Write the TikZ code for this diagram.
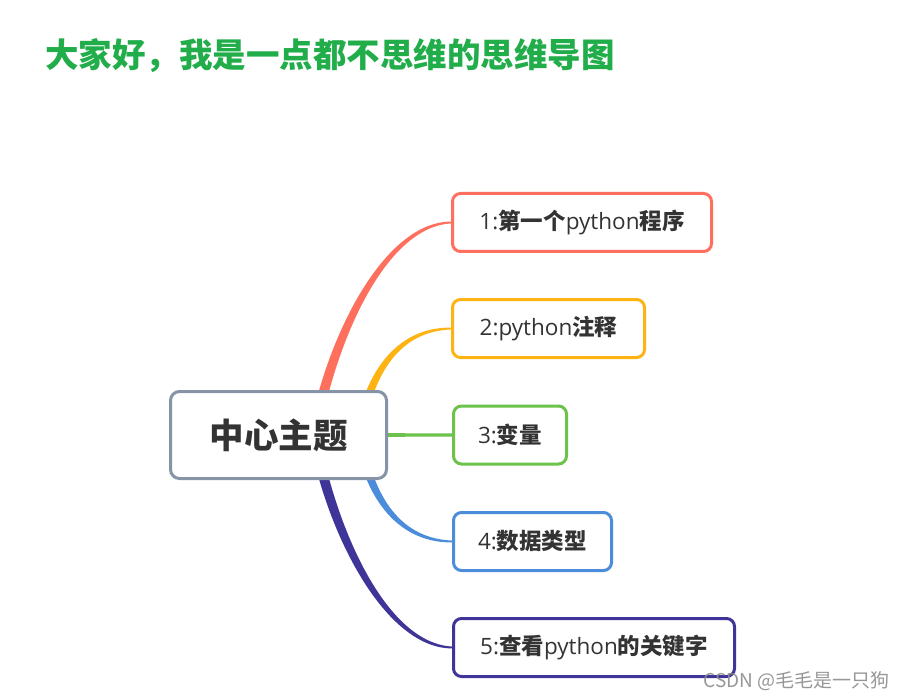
\documentclass[tikz,border=0pt]{standalone}
\usepackage{fontspec}
\setmainfont{Open Sans}
\newfontfamily\cjk{Noto Sans CJK SC}
\usetikzlibrary{calc}
\pgfdeclarelayer{bg}
\pgfsetlayers{bg,main}
\definecolor{cred}{HTML}{FE6F5E}
\definecolor{corange}{HTML}{FDB412}
\definecolor{cgreen}{HTML}{6CC24A}
\definecolor{cblue}{HTML}{4B8DDA}
\definecolor{cpurple}{HTML}{3F3497}
\definecolor{cgrey}{HTML}{8794A8}
\definecolor{ctitle}{HTML}{22AD4B}
\definecolor{ctext}{HTML}{333333}
\newcommand{\zh}[1]{{\cjk\bfseries #1}}
% color, P0, P1, P2, P3 (coordinate names), start half width, vertical sign (1 up, -1 down)
\newcommand{\mmbranch}[7]{%
  \fill[#1] ($(#2)+(-#6,0)$) .. controls ($(#3)+(-#6,-0.3*#6*#7)$) and ($(#4)+(-0.15*#6,-0.5*#6*#7)$) .. ($(#5)+(0,-0.9*#7)$)
    -- ($(#5)+(0,0.9*#7)$) .. controls ($(#4)+(0.15*#6,0.5*#6*#7)$) and ($(#3)+(#6,0.3*#6*#7)$) .. ($(#2)+(#6,0)$) -- cycle;}
\tikzset{
  topic/.style={draw=#1, line width=3pt, rounded corners=8pt, fill=white, outer sep=0pt,
    minimum height=58pt, inner sep=0pt, text=ctext, font=\fontsize{22.5}{26}\selectfont},
  centre/.style={draw=cgrey, line width=3pt, rounded corners=9pt, fill=white, outer sep=0pt,
    minimum width=216pt, minimum height=87pt, inner sep=0pt, text=ctext,
    font=\fontsize{34.5}{40}\selectfont\cjk\bfseries},
}
\begin{document}
\begin{tikzpicture}[x=1pt,y=-1pt]
\useasboundingbox (0,0) rectangle (906,698);

\node[anchor=west, text=ctitle, inner sep=0pt, font=\fontsize{33.5}{40}\selectfont\cjk\bfseries] (title) at (45,56) {大家好，我是一点都不思维的思维导图};

\node[centre] (c) at (278.5,435) {中心主题};

\node[topic=cred, minimum width=259pt] (n1) at (582,222.5) {1:\zh{第一个}python\zh{程序}};
\node[topic=corange, minimum width=192pt] (n2) at (548.5,328.5) {2:python\zh{注释}};
\node[topic=cgreen, minimum width=113pt] (n3) at (510,435) {3:\zh{变量}};
\node[topic=cblue, minimum width=158pt] (n4) at (532.5,541.5) {4:\zh{数据类型}};
\node[topic=cpurple, minimum width=281pt] (n5) at (594,647.5) {5:\zh{查看}python\zh{的关键字}};

\node[anchor=east, inner sep=0pt, text=black!45, opacity=0.9, font=\fontsize{19}{22}\selectfont\cjk] (wm) at (890,681) {CSDN @毛毛是一只狗};

\begin{pgfonlayer}{bg}
  \fill[white] (0,0) rectangle (906,698);
  % red
  \coordinate (r0) at ($(c.center)+(34.5,5)$);
  \coordinate (r1) at ($(c.center)+(51.5,-95)$);
  \coordinate (r2) at ($(n1.west)+(-67.5,0)$);
  \mmbranch{cred}{r0}{r1}{r2}{n1.west}{5.2}{1}
  % orange
  \coordinate (o0) at ($(c.center)+(79.5,5)$);
  \coordinate (o1) at ($(c.center)+(89.5,-65)$);
  \coordinate (o2) at ($(n2.west)+(-52.5,0)$);
  \mmbranch{corange}{o0}{o1}{o2}{n2.west}{4.4}{1}
  % green
  \fill[cgreen] ($(c.center)+(0,-2.4)$) -- ($(n3.west)+(0,-1.5)$) -- ($(n3.west)+(0,1.5)$) -- ($(c.center)+(0,2.4)$) -- cycle;
  % blue
  \coordinate (b0) at ($(c.center)+(79.5,-5)$);
  \coordinate (b1) at ($(c.center)+(89.5,65)$);
  \coordinate (b2) at ($(n4.west)+(-52.5,0)$);
  \mmbranch{cblue}{b0}{b1}{b2}{n4.west}{4.4}{-1}
  % purple
  \coordinate (p0) at ($(c.center)+(34.5,-5)$);
  \coordinate (p1) at ($(c.center)+(51.5,95)$);
  \coordinate (p2) at ($(n5.west)+(-67.5,0)$);
  \mmbranch{cpurple}{p0}{p1}{p2}{n5.west}{5.2}{-1}
\end{pgfonlayer}
\end{tikzpicture}
\end{document}
